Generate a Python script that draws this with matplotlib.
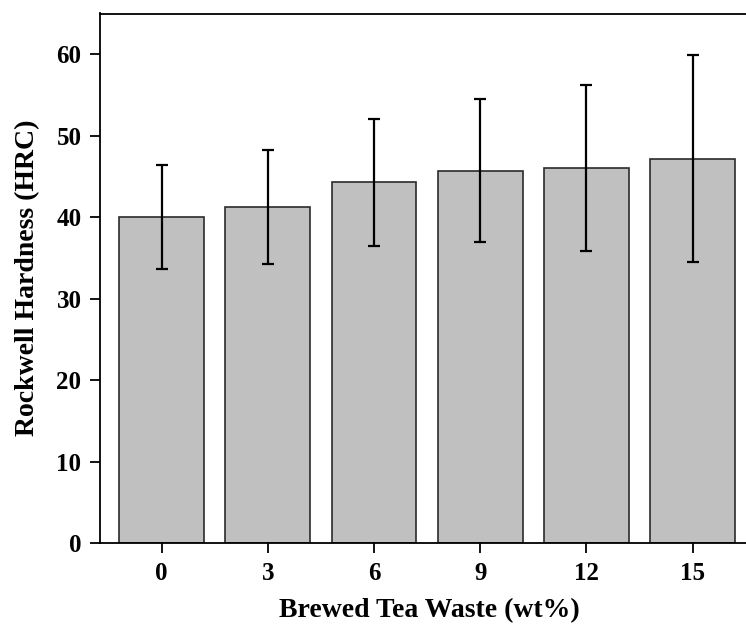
import numpy as np
import matplotlib
matplotlib.use("Agg")
import matplotlib.pyplot as plt

plt.rcParams['font.family'] = ['Liberation Serif', 'DejaVu Serif']
plt.rcParams['font.weight'] = 'bold'

tea_waste = [0, 3, 6, 9, 12, 15]
hardness = [40.0, 41.2, 44.3, 45.7, 46.0, 47.2]
hardness_err = [6.4, 7.0, 7.8, 8.8, 10.2, 12.7]

fig = plt.figure(figsize=(7.46, 6.27), dpi=100)
ax = fig.add_axes([99.5 / 746, 1 - 543 / 627, (760 - 99.5) / 746, (543 - 13.5) / 627])

ax.bar(tea_waste, hardness, width=2.4, color="#c0c0c0", edgecolor="#2b2b2b", linewidth=1.2, zorder=2)
ax.errorbar(tea_waste, hardness, yerr=hardness_err, fmt="none", ecolor="black",
            elinewidth=1.6, capsize=4, capthick=1.6, zorder=3)

ax.set_xlim(-1.757, 15 + (760 - 692.5) / 35.4)
ax.set_ylim(0, 65)
ax.set_xticks(tea_waste)
ax.set_yticks(np.arange(0, 61, 10))
ax.tick_params(direction="out", length=7, width=1.3, labelsize=18, pad=6)
ax.tick_params(axis="x", pad=7)
for lab in ax.get_xticklabels() + ax.get_yticklabels():
    lab.set_fontweight("bold")
for s in ax.spines.values():
    s.set_linewidth(1.3)

ax.set_xlabel("Brewed Tea Waste (wt%)", fontsize=20, fontweight="bold", labelpad=9)
ax.set_ylabel("Rockwell Hardness (HRC)", fontsize=20, fontweight="bold", labelpad=12)

fig.savefig("out.png", dpi=100)
